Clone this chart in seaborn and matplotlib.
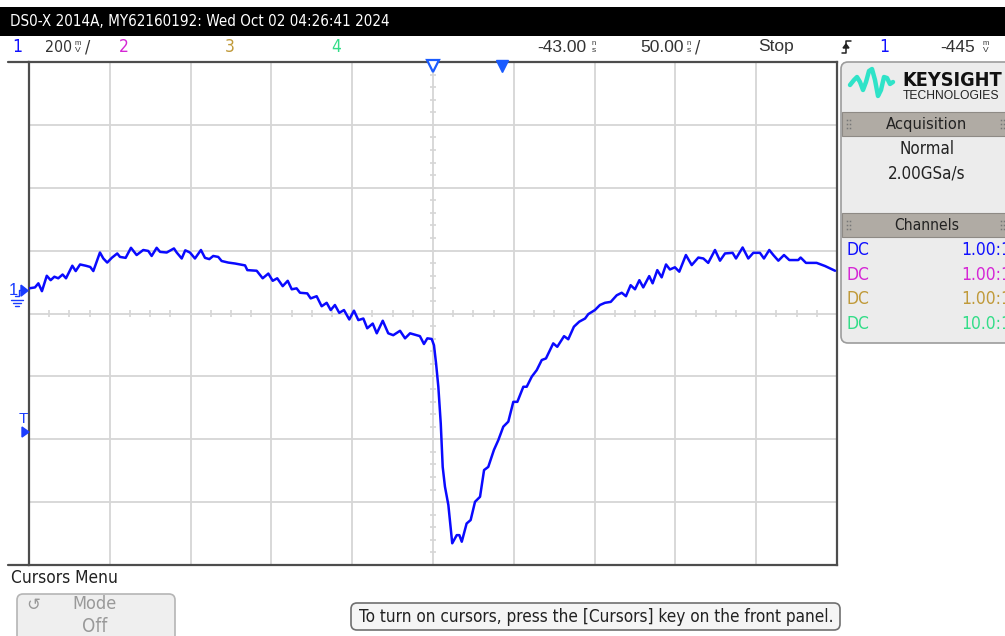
import numpy as np
import pandas as pd
import matplotlib
matplotlib.use("Agg")
import matplotlib.pyplot as plt
import matplotlib.font_manager as fm
from matplotlib.font_manager import FontProperties
from matplotlib.patches import FancyBboxPatch, Rectangle, Polygon
import seaborn as sns

# ---- Channel 1 capture (time in ns relative to trigger, level in mV) ----
time_ns = [
    -293.0, -289.3, -287.2, -285.0, -282.0, -279.6, -277.3, -274.9, -272.2, -270.1,
    -266.2, -264.1, -261.4, -257.9, -255.1, -253.2, -249.1, -247.0, -244.6, -241.8,
    -238.4, -236.7, -233.2, -229.9, -226.4, -222.3, -219.2, -217.1, -214.0, -211.9,
    -207.8, -203.3, -201.6, -198.5, -196.3, -193.4, -190.3, -186.6, -184.1, -181.4,
    -179.0, -175.9, -173.8, -169.7, -165.5, -159.3, -157.9, -152.1, -148.4, -144.9,
    -142.2, -139.4, -136.0, -132.9, -130.4, -127.4, -125.3, -120.8, -118.7, -115.0,
    -111.9, -108.8, -106.3, -103.7, -101.0, -98.1, -94.8, -91.9, -89.2, -86.1,
    -83.7, -80.3, -77.8, -74.1, -70.7, -67.6, -63.4, -60.3, -57.2, -51.1,
    -48.6, -46.5, -43.8, -42.4, -41.1, -39.7, -38.2, -37.0, -35.6, -33.5,
    -31.1, -28.3, -26.7, -25.2, -22.2, -19.7, -17.0, -13.9, -11.4, -8.8,
    -5.3, -2.6, 0.5, 3.6, 6.7, 9.2, 12.9, 15.0, 18.1, 21.2,
    24.3, 26.9, 31.4, 33.9, 38.1, 40.7, 44.2, 47.5, 51.1, 53.1,
    57.2, 60.3, 63.4, 67.0, 70.7, 73.8, 76.4, 79.3, 82.0, 84.7,
    87.1, 90.8, 92.9, 95.8, 98.5, 101.2, 103.6, 106.7, 109.4, 113.5,
    117.1, 121.2, 124.3, 127.3, 131.5, 134.6, 137.7, 142.4, 144.5, 148.6,
    152.1, 155.2, 159.3, 161.8, 165.1, 167.6, 170.7, 174.2, 177.5, 183.0,
    184.5, 187.8, 194.4, 199.6, 205.8,
]
ch1_mv = [
    12, 15, 28, 3, 52, 38, 49, 44, 56, 44,
    84, 67, 88, 84, 80, 67, 126, 107, 94, 109,
    123, 112, 109, 141, 118, 134, 131, 115, 141, 128,
    126, 139, 126, 107, 133, 126, 107, 134, 109, 105,
    115, 112, 99, 94, 91, 85, 70, 68, 44, 59,
    36, 44, 19, 36, 9, 12, -2, -4, -20, -13,
    -45, -34, -57, -41, -66, -57, -87, -59, -89, -84,
    -115, -100, -131, -91, -131, -137, -123, -147, -131, -140,
    -165, -147, -149, -169, -227, -301, -418, -556, -619, -677,
    -799, -773, -773, -794, -736, -725, -667, -651, -566, -556,
    -502, -471, -428, -412, -349, -349, -301, -301, -269, -248,
    -216, -211, -163, -174, -140, -150, -110, -94, -84, -70,
    -57, -41, -34, -31, -10, -2, -13, 22, 9, 38,
    15, 51, 28, 70, 47, 88, 72, 79, 65, 118,
    86, 110, 107, 93, 134, 100, 123, 125, 107, 142,
    107, 125, 125, 107, 134, 118, 100, 118, 102, 102,
    110, 93, 93, 83, 68,
]

# ---- Scope settings shown on screen ----
T_CENTER_NS = -43.0      # horizontal delay (screen centre)
T_PER_DIV_NS = 50.0
V_PER_DIV_MV = 200.0
V_CENTER_MV = -68.0      # channel offset at screen centre
TRIG_LEVEL_MV = -445.0
N_HDIV, N_VDIV = 10, 8

header_text = "DS0-X 2014A, MY62160192: Wed Oct 02 04:26:41 2024"
channel_labels = ["1", "2", "3", "4"]
channel_colors = ["#1010ff", "#d526d5", "#c09a3a", "#33dd88"]
channel_ratios = ["1.00:1", "1.00:1", "1.00:1", "10.0:1"]

sns.set_style("white")
plt.rcParams["font.family"] = ["Liberation Sans", "DejaVu Sans"]


def _pick_font(bold=False):
    """Return the path of a narrow/condensed sans face if one is installed."""
    best, best_rank = None, 99
    for f in fm.fontManager.ttflist:
        nm, path = f.name.lower(), f.fname.lower()
        narrow = ("narrow" in nm or "narrow" in path or "condensed" in nm
                  or "condensed" in path or str(f.stretch) in ("condensed", "semi-condensed"))
        if not narrow:
            continue
        if "mono" in path or "dejavuserif" in path:
            continue
        if "oblique" in path or "italic" in path:
            continue
        is_bold = "bold" in path or f.weight in ("bold", 700)
        if is_bold != bold:
            continue
        if "liberation" in path:
            rank = 0
        elif "dejavusans" in path:
            rank = 1
        else:
            rank = 2
        if rank < best_rank:
            best, best_rank = f.fname, rank
    return best


NARROW_PATH = _pick_font(False)
NARROW_BOLD_PATH = _pick_font(True)


def fprop(size, narrow=True, bold=False):
    path = NARROW_BOLD_PATH if bold else NARROW_PATH
    if narrow and path:
        return FontProperties(fname=path, size=size)
    return FontProperties(family=["Liberation Sans", "DejaVu Sans"], size=size,
                          weight="bold" if bold else "normal")


W, H = 1005, 636
fig = plt.figure(figsize=(W / 100, H / 100), dpi=100)
fig.patch.set_facecolor("white")
renderer = fig.canvas.get_renderer()

# graticule area in pixels
L, R, T, B = 29, 837, 62, 565
ax = fig.add_axes([L / W, 1 - B / H, (R - L) / W, (B - T) / H])
ax.set_zorder(1)

t0 = T_CENTER_NS - T_PER_DIV_NS * N_HDIV / 2
t1 = T_CENTER_NS + T_PER_DIV_NS * N_HDIV / 2
v0 = V_CENTER_MV - V_PER_DIV_MV * N_VDIV / 2
v1 = V_CENTER_MV + V_PER_DIV_MV * N_VDIV / 2
ax.set_xlim(t0, t1)
ax.set_ylim(v0, v1)

grid_c = "#d6d6d6"
ax.set_xticks(np.linspace(t0, t1, N_HDIV + 1))
ax.set_yticks(np.linspace(v0, v1, N_VDIV + 1))
ax.grid(True, color=grid_c, lw=1.3)
ax.tick_params(length=0, labelbottom=False, labelleft=False)
for s in ax.spines.values():
    s.set_color("#4d4d4d")
    s.set_linewidth(1.6)

# minor ticks along the centre lines
px_t = T_PER_DIV_NS / ((R - L) / N_HDIV)
px_v = V_PER_DIV_MV / ((B - T) / N_VDIV)
mx = np.arange(t0, t1 + 0.01, T_PER_DIV_NS / 4)
ax.vlines(mx, V_CENTER_MV - 3.2 * px_v, V_CENTER_MV + 3.2 * px_v, color=grid_c, lw=1.2)
my = np.arange(v0, v1 + 0.01, V_PER_DIV_MV / 5)
ax.hlines(my, T_CENTER_NS - 3.2 * px_t, T_CENTER_NS + 3.2 * px_t, color=grid_c, lw=1.2)

df = pd.DataFrame({"t": time_ns, "v": ch1_mv})
sns.lineplot(data=df, x="t", y="v", ax=ax, sort=False, estimator=None,
             color="#0a0aff", lw=1.8, zorder=5)
ax.set_xlabel("")
ax.set_ylabel("")

# time reference / trigger markers on the top edge
tr_y = 1 - 3.5 / (B - T)
tb = ax.get_xaxis_transform()
ax.plot([T_CENTER_NS], [tr_y], marker="v", ms=9, mfc="white", mec="#1a5bff",
        mew=1.6, transform=tb, clip_on=False, zorder=6)
ax.plot([0.0], [tr_y], marker="v", ms=9, mfc="#1a5bff", mec="#1a5bff",
        transform=tb, clip_on=False, zorder=6)

# ---- overlay in pixel coordinates for the instrument chrome ----
ov = fig.add_axes([0, 0, 1, 1], facecolor="none")
ov.set_zorder(2)
ov.set_xlim(0, W)
ov.set_ylim(H, 0)
ov.axis("off")


def put(x, y, s, size, width=None, narrow=True, bold=False, **kw):
    """Place a label; shrink it if it runs wider than the given pixel width."""
    kw.setdefault("va", "center")
    t = ov.text(x, y, s, fontproperties=fprop(size, narrow, bold), **kw)
    if width:
        w = t.get_window_extent(renderer).width
        if w > width:
            t.set_fontsize(size * width / w)
    return t


def px_y(mv):
    return T + (v1 - mv) / px_v


# frame lines extending to the left of the graticule
ov.plot([8, L], [T, T], color="#4d4d4d", lw=1.6)
ov.plot([8, L], [B, B], color="#4d4d4d", lw=1.6)

# title bar
ov.add_patch(Rectangle((0, 7), W, 29, color="black", lw=0))
put(10, 22, header_text, 15, width=382, color="white")

# status row
row_y = 47
txt_c = "#333333"


def stacked(x, top, bot, color=txt_c):
    put(x, row_y - 3.5, top, 5.5, narrow=False, ha="center", color=color)
    put(x, row_y + 3.2, bot, 6, narrow=False, ha="center", color=color)


put(17, row_y, channel_labels[0], 12.5, ha="center", color=channel_colors[0])
put(45, row_y, "200", 12.5, width=27, color=txt_c)
stacked(78, "m", "V")
put(85, row_y, "/", 12.5, color=txt_c)
for lab, col, x in zip(channel_labels[1:], channel_colors[1:], [124, 230, 336]):
    put(x, row_y, lab, 12.5, ha="center", color=col)
put(537, row_y, "-43.00", 12.5, width=53, narrow=False, color=txt_c)
stacked(594, "n", "s")
put(640, row_y, "50.00", 12.5, width=44, narrow=False, color=txt_c)
stacked(689, "n", "s")
put(695, row_y, "/", 12.5, color=txt_c)
put(758, row_y, "Stop", 12.5, width=37, narrow=False, color=txt_c)
# rising-edge trigger glyph
ov.plot([842, 846, 846, 851], [53, 53, 41, 41], color="#222", lw=1.1)
ov.add_patch(Polygon([[843, 48], [849, 48], [846, 44]], closed=True, color="#222"))
put(884, row_y, "1", 12.5, ha="center", color=channel_colors[0])
put(940, row_y, "-445", 12.5, width=40, narrow=False, color=txt_c)
stacked(986, "m", "V")

# channel 1 ground marker and trigger level marker on the left edge
blue = "#1a3cff"
gy = px_y(0.0)
put(13, gy - 2, "1", 12, narrow=False, ha="center", color=blue)
ov.plot([15, 19, 19, 22], [gy + 4, gy + 4, gy - 2, gy - 2], color=blue, lw=1)
ov.add_patch(Polygon([[21, gy - 7], [21, gy + 4], [28, gy - 1.5]], closed=True, color=blue))
for i, hw in enumerate([6, 4, 2]):
    ov.plot([17 - hw, 17 + hw], [gy + 8 + 3 * i, gy + 8 + 3 * i], color=blue, lw=1)
ty = px_y(TRIG_LEVEL_MV)
put(23, ty - 13, "T", 11, narrow=False, ha="center", color=blue)
ov.add_patch(Polygon([[22, ty - 5], [22, ty + 5], [29, ty]], closed=True, color=blue))

# right-hand information panel
panel_bg = "#ececec"
ov.add_patch(FancyBboxPatch((841, 62), 180, 281, boxstyle="round,pad=0,rounding_size=7",
                            facecolor=panel_bg, edgecolor="#9c9c9c", lw=1.2))
logo_x = [850, 854, 857, 860, 863, 866, 869, 872, 875, 878, 881, 884, 887, 890, 893]
logo_y = [85, 80, 77, 82, 90, 82, 71, 69, 80, 96, 90, 77, 78, 84, 82]
ov.plot(logo_x, logo_y, color="#2fe3c8", lw=3.2, solid_capstyle="round",
        solid_joinstyle="round")
put(902, 80, "KEYSIGHT", 17, width=100, bold=True, color="#111111")
put(903, 96, "TECHNOLOGIES", 8.8, width=97, narrow=False, color="#222222")

hdr_c = "#b0aba4"
for y0, lab, wd in [(112, "Acquisition", 81), (213, "Channels", 65)]:
    ov.add_patch(Rectangle((842, y0), 170, 24, facecolor=hdr_c, edgecolor="#8e8a85",
                           lw=0.8))
    put(927, y0 + 12, lab, 15, width=wd, ha="center", color="#222222")
    for gx in (847, 1001):
        for dy in (-4, 0, 4):
            for dx in (0, 3):
                ov.plot([gx + dx], [y0 + 12 + dy], marker="s", ms=1.1,
                        color="#777", mew=0)

put(927, 149, "Normal", 15, width=55, ha="center", color="#222222")
put(927, 174, "2.00GSa/s", 15, width=78, ha="center", color="#222222")
# the ratio column runs past the panel's clipped right edge
for i, (col, ratio) in enumerate(zip(channel_colors, channel_ratios)):
    yy = 250 + i * 24.7
    put(846, yy, "DC", 12.5, color=col)
    put(961, yy, ratio, 12.5, color=col)

# cursor menu area
put(11, 578, "Cursors Menu", 15, width=107, color="#222222")
ov.add_patch(FancyBboxPatch((17, 594), 158, 60, boxstyle="round,pad=0,rounding_size=6",
                            facecolor="#efefef", edgecolor="#b5b5b5", lw=1.2))
ov.text(33, 605, "\u21ba", fontsize=12, ha="center", va="center", color="#999999",
        family=["DejaVu Sans"])
put(95, 604, "Mode", 13.5, width=44, ha="center", color="#999999")
put(95, 627, "Off", 13.5, ha="center", color="#999999")
ov.add_patch(FancyBboxPatch((351, 603), 489, 27, boxstyle="round,pad=0,rounding_size=6",
                            facecolor="#f5f5f5", edgecolor="#6f6f6f", lw=1.2))
put(596, 617, "To turn on cursors, press the [Cursors] key on the front panel.",
    15, width=477, ha="center", color="#222222")

fig.savefig("out.png", dpi=100)
